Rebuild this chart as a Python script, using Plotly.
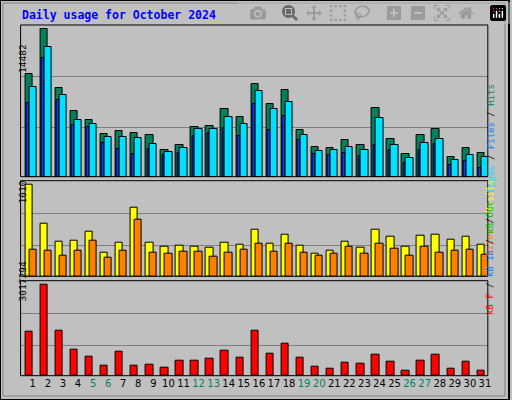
import plotly.graph_objects as go

days = list(range(1, 32))
hits = [10059,14482,8682,6421,5537,4161,4456,4259,4062,2588,3080,4849,4947,6618,5832,9075,7109,8485,4554,2883,2785,3571,3080,6716,3669,2195,4062,4652,1900,2785,2293]
files = [8780,12712,7994,5537,5144,3866,3866,3768,3178,2392,2785,4652,4652,5832,5144,8387,6618,7306,4062,2490,2588,2883,2588,5733,3080,1802,3276,3669,1605,2097,1900]
pages = [7208,11631,7502,5045,4849,3276,2686,2195,2686,2097,2293,3964,4259,4750,3964,7109,4554,5930,3571,2195,2097,2293,1998,3080,2588,1310,2588,3178,1114,1507,819]
visits = [1010,582,384,395,494,263,373,757,373,329,340,329,318,373,351,516,362,461,340,252,285,384,318,516,439,329,450,461,406,439,351]
sites = [296,285,231,285,395,209,285,626,263,252,274,274,220,263,296,362,274,362,263,231,252,329,252,362,307,231,329,263,285,296,241]
kbytes = [1464600,3017294,1497600,870000,638700,341400,803900,341400,374400,275300,506600,506600,572600,836900,605700,1497600,737800,1068200,605700,308300,242300,440500,407400,704800,473500,176200,506600,704800,242300,473500,176200]
weekends = {5, 6, 12, 13, 19, 20, 26, 27}

H, W = 400, 512
def py(p): return (H - p) / H
def px(p): return p / W

fig = go.Figure()
ln = dict(color="black", width=1)
fig.add_bar(x=[d + 0.046 for d in days], y=hits, width=0.49, marker=dict(color="#00805C", line=ln), xaxis="x", yaxis="y")
fig.add_bar(x=[d - 0.02 for d in days], y=pages, width=0.17, marker=dict(color="#0040FF", line=ln), xaxis="x", yaxis="y")
fig.add_bar(x=[d + 0.31 for d in days], y=files, width=0.49, marker=dict(color="#00E0FF", line=ln), xaxis="x", yaxis="y")
fig.add_bar(x=[d + 0.046 for d in days], y=visits, width=0.49, marker=dict(color="#FFFF00", line=ln), xaxis="x", yaxis="y2")
fig.add_bar(x=[d + 0.31 for d in days], y=sites, width=0.49, marker=dict(color="#FF8000", line=ln), xaxis="x", yaxis="y2")
fig.add_bar(x=[d + 0.046 for d in days], y=kbytes, width=0.49, marker=dict(color="#FF0000", line=ln), xaxis="x", yaxis="y3")

ticktext = [f"<span style='color:{'#008060' if d in weekends else 'black'}'>{d}</span>" for d in days]
xdom = [px(20.7), px(490.7)]

def yax(dom, mx, rng):
    return dict(domain=dom, range=[0, rng], tickvals=[0.335 * mx, 0.682 * mx], showticklabels=False,
                gridcolor="#808080", gridwidth=1, zeroline=False, fixedrange=True)

fig.update_layout(
    width=W, height=H, margin=dict(l=0, r=0, t=0, b=0),
    paper_bgcolor="#C0C0C0", plot_bgcolor="#C0C0C0", showlegend=False, barmode="overlay",
    xaxis=dict(domain=xdom, range=[0.5, 31.5], anchor="y3", tickvals=[d + 0.31 for d in days], ticktext=ticktext,
               ticks="", showgrid=False, zeroline=False, tickfont=dict(family="DejaVu Sans", size=10, color="black")),
    yaxis=yax([py(176.7), py(25)], 14482, 14905),
    yaxis2=yax([py(276.3), py(180.7)], 1010, 1049.5),
    yaxis3=yax([py(375.7), py(280.7)], 3017294, 3136100),
    bargap=0,
)

shapes = [dict(type="rect", xref="paper", yref="paper", x0=0, x1=1, y0=0, y1=1, line=dict(color="black", width=2)),
          dict(type="rect", xref="paper", yref="paper", x0=px(3), x1=px(508), y0=py(396), y1=py(3), line=dict(color="#808080", width=1))]
for top, bot in [(25, 176.7), (180.7, 276.3), (280.7, 375.7)]:
    shapes.append(dict(type="rect", xref="paper", yref="paper", x0=xdom[0], x1=xdom[1], y0=py(bot), y1=py(top),
                       line=dict(color="black", width=1)))
fig.update_layout(shapes=shapes)

mono = "DejaVu Sans Mono"
anns = [
    dict(text="<b>Daily usage for October 2024</b>", x=px(20), y=py(15), xanchor="left", yanchor="middle",
         font=dict(family=mono, size=11.5, color="#0000FF")),
    dict(text="14482", x=px(15), y=py(42), textangle=-90, font=dict(family=mono, size=9.5, color="black")),
    dict(text="1010", x=px(15), y=py(192), textangle=-90, font=dict(family=mono, size=9.5, color="black")),
    dict(text="3017294", x=px(15), y=py(303), textangle=-90, font=dict(family=mono, size=9.5, color="black")),
    dict(text="<span style='color:#00E0FF'>Pages</span> / <span style='color:#0080FF'>Files</span> / <span style='color:#008060'>Hits</span>",
         x=px(500), y=py(82.5), textangle=-90, font=dict(family=mono, size=9, color="black")),
    dict(text="<span style='color:#FF8000'>Sites</span> / <span style='color:#FFFF00'>Visits</span>",
         x=px(500), y=py(218), textangle=-90, font=dict(family=mono, size=9, color="black")),
    dict(text="<span style='color:#FF0000'>kB F</span> / <span style='color:#0080FF'>kB In</span> / <span style='color:#00C000'>kB Out</span>",
         x=px(500), y=py(317), textangle=-90, font=dict(family=mono, size=9, color="black")),
]
for a in anns:
    a.update(xref="paper", yref="paper", showarrow=False)
fig.update_layout(annotations=anns)

fig.write_html("out.html", post_script="document.body.style.margin='0';document.body.style.overflow='hidden';")
